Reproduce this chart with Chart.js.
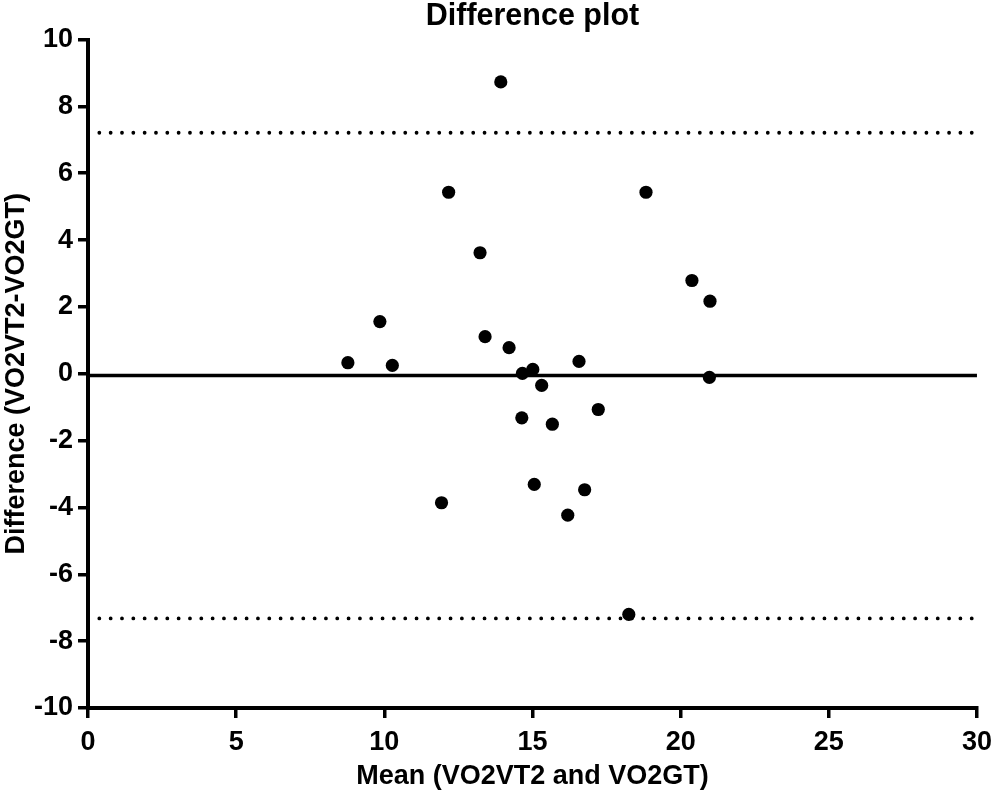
<html lang="en">
<head>
    <meta charset="UTF-8">
    <title>Difference plot</title>
    <script src="https://cdn.jsdelivr.net/npm/chart.js"></script>
    <style>
        body { margin: 0; background: #fff; }
        #wrap { width: 1000px; height: 794px; position: relative; }
    </style>
</head>
<body>
<div id="wrap">
    <canvas id="diffChart"></canvas>
</div>

<script>
    // Bland-Altman data
    const meanValues = [8.77, 9.85, 10.27, 12.17, 13.23, 13.40, 13.93, 14.21, 14.66, 15.01, 15.31, 16.57,
                        14.64, 15.67, 17.22, 15.06, 16.76, 16.19, 11.93, 18.25, 18.83, 20.38, 20.99, 20.97];
    const diffValues = [0.33, 1.56, 0.25, 5.43, 3.62, 1.11, 8.73, 0.78, 0.01, 0.13, -0.35, 0.37,
                        -1.32, -1.51, -1.07, -3.31, -3.47, -4.23, -3.86, -7.20, 5.43, 2.79, 2.17, -0.11];
    const bias = -0.05;
    const upperLimit = 7.21;
    const lowerLimit = -7.32;
    const xTicks = [0, 5, 10, 15, 20, 25, 30];
    const yTicks = [-10, -8, -6, -4, -2, 0, 2, 4, 6, 8, 10];

    const fontFamily = '"Liberation Sans", Arial, Helvetica, sans-serif';

    function hLine(value) {
        return [{x: xTicks[0], y: value}, {x: xTicks[xTicks.length - 1], y: value}];
    }

    const points = meanValues.map((m, i) => ({x: m, y: diffValues[i]}));

    const config = {
        type: 'scatter',
        data: {
            datasets: [
                {
                    label: 'Difference',
                    data: points,
                    backgroundColor: '#000',
                    borderWidth: 0,
                    pointRadius: 6.6,
                    order: 0
                },
                {
                    label: 'Bias',
                    data: hLine(bias),
                    showLine: true,
                    borderColor: '#000',
                    borderWidth: 3.5,
                    pointRadius: 0,
                    order: 1
                },
                {
                    label: 'Upper limit',
                    data: hLine(upperLimit),
                    showLine: true,
                    borderColor: '#000',
                    borderWidth: 3.8,
                    borderDash: [0, 11.33],
                    borderCapStyle: 'round',
                    pointRadius: 0,
                    order: 1
                },
                {
                    label: 'Lower limit',
                    data: hLine(lowerLimit),
                    showLine: true,
                    borderColor: '#000',
                    borderWidth: 3.8,
                    borderDash: [0, 11.33],
                    borderCapStyle: 'round',
                    pointRadius: 0,
                    order: 1
                }
            ]
        },
        options: {
            responsive: true,
            maintainAspectRatio: false,
            animation: false,
            layout: {
                padding: {left: 0, right: 21, top: 0, bottom: 0}
            },
            plugins: {
                legend: {display: false},
                tooltip: {enabled: false},
                title: {
                    display: true,
                    text: 'Difference plot',
                    fullSize: false,
                    color: '#000',
                    font: {family: fontFamily, size: 30.5, weight: 'bold', lineHeight: 1.0},
                    padding: {top: 1, bottom: 8}
                }
            },
            scales: {
                x: {
                    type: 'linear',
                    min: xTicks[0],
                    max: xTicks[xTicks.length - 1],
                    afterBuildTicks: (scale) => { scale.ticks = xTicks.map(v => ({value: v})); },
                    afterFit: (scale) => { scale.height = 86; },
                    border: {display: true, color: '#000', width: 4},
                    grid: {display: true, drawOnChartArea: false, drawTicks: true, tickLength: 10, color: '#000', lineWidth: 3.5},
                    ticks: {
                        color: '#000',
                        padding: 8,
                        maxRotation: 0,
                        font: {family: fontFamily, size: 27, weight: 'bold'}
                    },
                    title: {
                        display: true,
                        text: 'Mean (VO2VT2 and VO2GT)',
                        color: '#000',
                        font: {family: fontFamily, size: 27, weight: 'bold'},
                        padding: {top: 0, bottom: 1}
                    }
                },
                y: {
                    type: 'linear',
                    min: yTicks[0],
                    max: yTicks[yTicks.length - 1],
                    afterBuildTicks: (scale) => { scale.ticks = yTicks.map(v => ({value: v})); },
                    afterFit: (scale) => { scale.width = 88; },
                    border: {display: true, color: '#000', width: 4},
                    grid: {display: true, drawOnChartArea: false, drawTicks: true, tickLength: 10, color: '#000', lineWidth: 3.5},
                    ticks: {
                        color: '#000',
                        padding: 5,
                        font: {family: fontFamily, size: 27, weight: 'bold'}
                    },
                    title: {
                        display: true,
                        text: 'Difference (VO2VT2-VO2GT)',
                        color: '#000',
                        font: {family: fontFamily, size: 27, weight: 'bold'},
                        padding: {top: 0, bottom: 0}
                    }
                }
            }
        }
    };

    window.onload = function () {
        const ctx = document.getElementById('diffChart').getContext('2d');
        new Chart(ctx, config);
    };
</script>
</body>
</html>
